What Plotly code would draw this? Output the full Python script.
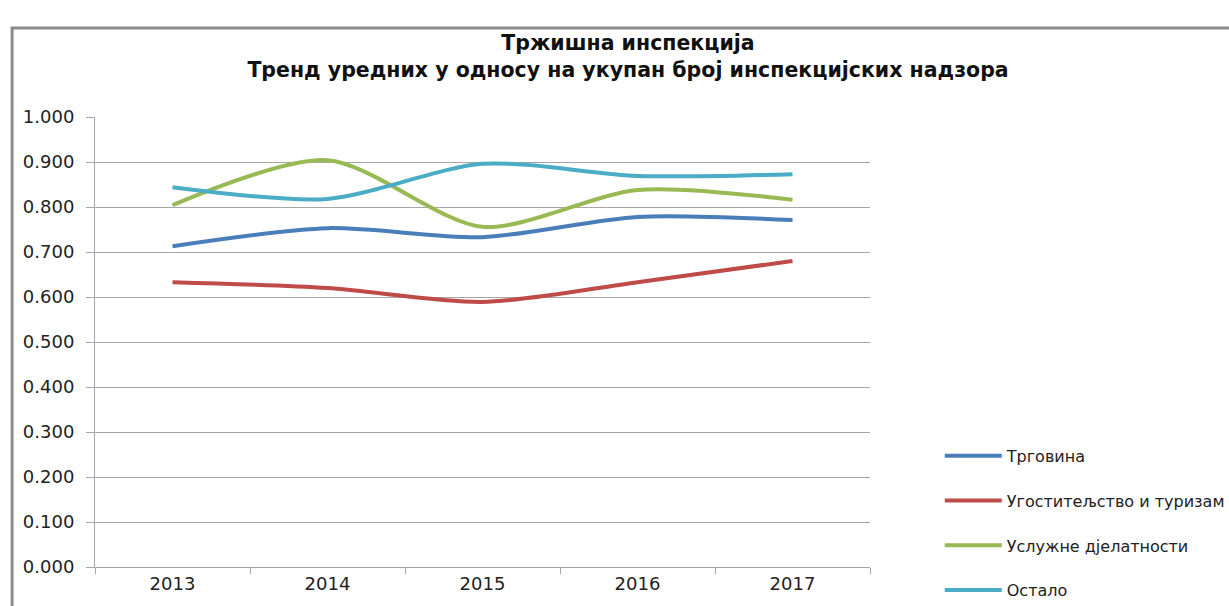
import plotly.graph_objects as go

years = ['2013', '2014', '2015', '2016', '2017']
trgovina = [0.713, 0.753, 0.733, 0.778, 0.771]
ugostiteljstvo = [0.633, 0.620, 0.589, 0.633, 0.680]
usluzne = [0.804, 0.904, 0.756, 0.838, 0.816]
ostalo = [0.844, 0.818, 0.896, 0.869, 0.873]

series = [
    ('Трговина', trgovina, '#4A7EBB'),
    ('Угоститељство и туризам', ugostiteljstvo, '#BE4B48'),
    ('Услужне дјелатности', usluzne, '#98B954'),
    ('Остало', ostalo, '#4BACC6'),
]

fig = go.Figure()
for name, vals, color in series:
    fig.add_trace(go.Scatter(x=years, y=vals, name=name, mode='lines',
                             legendgroup=name,
                             line=dict(color=color, width=4, shape='spline', smoothing=0.8)))

fig.update_layout(
    width=1229, height=606,
    paper_bgcolor='white', plot_bgcolor='white',
    margin=dict(l=95, r=359, t=117, b=39, autoexpand=False),
    font=dict(family='DejaVu Sans', size=18, color='#222'),
    title=dict(text='<b>Тржишна инспекција<br>Тренд уредних у односу на укупан број инспекцијских надзора</b>',
               x=0.511, xanchor='center', y=0.917, yanchor='top',
               font=dict(family='DejaVu Sans', size=20.5, color='#111')),
    legend=dict(x=1.09, y=0.285, xanchor='left', yanchor='top',
                traceorder='grouped', tracegroupgap=21, itemwidth=57,
                font=dict(family='DejaVu Sans', size=16, color='#222')),
    showlegend=True,
)

fig.update_yaxes(range=[0, 1.0], dtick=0.1, tickformat='.3f', automargin=False,
                 showgrid=True, gridcolor='#A6A6A6', gridwidth=1,
                 showline=True, linecolor='#A6A6A6', linewidth=1,
                 ticks='outside', ticklen=8, tickcolor='#A6A6A6',
                 zeroline=False, ticklabelstandoff=8)
fig.update_xaxes(showline=True, linecolor='#A6A6A6', linewidth=1, automargin=False,
                 ticks='outside', ticklen=6, tickcolor='#A6A6A6',
                 tickfont=dict(size=18),
                 tickson='boundaries', showgrid=False, range=[-0.5, 4.5])

# outer chart border
fig.add_shape(type='rect', xref='paper', yref='paper',
              x0=-0.107, y0=-0.3, x1=1.6, y1=1.198,
              line=dict(color='#8C8C8C', width=3), layer='below')

fig.write_html('out.html', config={'displayModeBar': False},
               post_script="document.body.style.margin='0px';")
